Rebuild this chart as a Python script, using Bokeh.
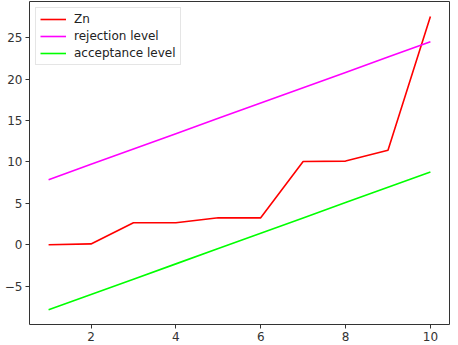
from bokeh.plotting import figure
from bokeh.models import FixedTicker, Range1d, Legend, LegendItem
from bokeh.embed import file_html
from bokeh.resources import INLINE

x = [1, 2, 3, 4, 5, 6, 7, 8, 9, 10]
zn = [0.0, 0.1, 2.65, 2.65, 3.25, 3.25, 10.05, 10.1, 11.4, 27.55]
rejection = [7.86, 9.71, 11.56, 13.41, 15.26, 17.11, 18.96, 20.81, 22.66, 24.51]
acceptance = [-7.86, -6.01, -4.16, -2.31, -0.46, 1.39, 3.24, 5.09, 6.94, 8.79]
x_ticks = [2, 4, 6, 8, 10]
y_ticks = [-5, 0, 5, 10, 15, 20, 25]

p = figure(width=450, height=343, output_backend="svg", toolbar_location=None,
           x_range=Range1d(0.55, 10.45), y_range=Range1d(-9.63, 29.37),
           min_border_top=1, min_border_right=1, min_border_left=29, min_border_bottom=0)
p.background_fill_color = "white"
p.border_fill_color = "white"
p.outline_line_color = "#333333"
p.outline_line_width = 1
p.xgrid.visible = False
p.ygrid.visible = False

for ax in (p.xaxis[0], p.yaxis[0]):
    ax.axis_line_color = None
    ax.minor_tick_line_color = None
    ax.major_tick_in = 0
    ax.major_tick_out = 4
    ax.major_tick_line_color = "#333333"
    ax.major_label_text_font = "DejaVu Sans"
    ax.major_label_text_font_size = "12px"
    ax.major_label_text_color = "#333333"
    ax.major_label_standoff = 3
p.xaxis[0].ticker = FixedTicker(ticks=x_ticks)
p.yaxis[0].ticker = FixedTicker(ticks=y_ticks)
p.yaxis[0].major_label_overrides = {v: str(v).replace("-", "\u2212") for v in y_ticks}

r1 = p.line(x, zn, line_color="#ff0000", line_width=1.6)
r2 = p.line(x, rejection, line_color="#ff00ff", line_width=1.6)
r3 = p.line(x, acceptance, line_color="#00ff00", line_width=1.6)

legend = Legend(items=[LegendItem(label="Zn", renderers=[r1]),
                       LegendItem(label="rejection level", renderers=[r2]),
                       LegendItem(label="acceptance level", renderers=[r3])],
                location="top_left")
legend.margin = 6
legend.padding = 4
legend.spacing = 3
legend.label_height = 14
legend.glyph_height = 14
legend.glyph_width = 26
legend.label_standoff = 8
legend.label_text_font = "DejaVu Sans"
legend.label_text_font_size = "12px"
legend.label_text_color = "#222222"
legend.border_line_color = "#cccccc"
legend.border_line_width = 1
legend.background_fill_alpha = 0.8
p.add_layout(legend, "center")

open("out.html", "w").write(file_html(p, INLINE))
